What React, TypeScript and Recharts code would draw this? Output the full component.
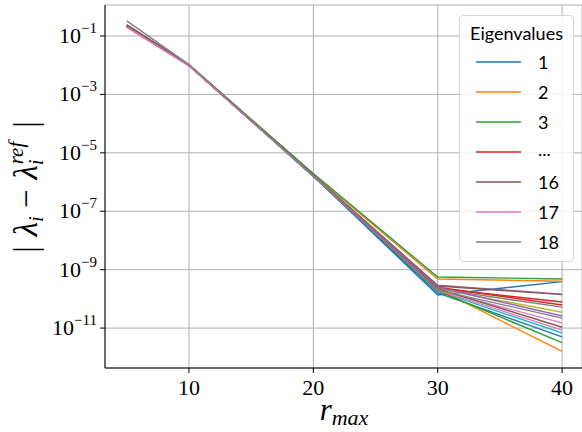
import { LineChart, Line, XAxis, YAxis, CartesianGrid } from "recharts";

// ── Data ──────────────────────────────────────────────────────────────────────

const rMax = [5, 10, 20, 30, 40];

const eig1 = [0.22, 1.0e-2, 1.6e-6, 1.35e-10, 3.9e-10];
const eig2 = [0.23, 1.02e-2, 1.8e-6, 4.8e-10, 4.0e-10];
const eig3 = [0.24, 1.05e-2, 1.95e-6, 5.6e-10, 4.8e-10];
const eig4 = [0.22, 1.0e-2, 1.7e-6, 2.3e-10, 7.8e-11];
const eig5 = [0.21, 9.8e-3, 1.7e-6, 2.95e-10, 1.45e-10];
const eig6 = [0.23, 1.0e-2, 1.7e-6, 2.75e-10, 1.4e-10];
const eig7 = [0.2, 9.6e-3, 1.6e-6, 2.0e-10, 1.5e-11];
const eig8 = [0.22, 1.0e-2, 1.65e-6, 2.2e-10, 5.2e-11];
const eig9 = [0.21, 9.8e-3, 1.65e-6, 2.2e-10, 3.5e-11];
const eig10 = [0.22, 9.9e-3, 1.6e-6, 1.86e-10, 6.8e-12];
const eig11 = [0.21, 9.7e-3, 1.55e-6, 1.6e-10, 5.0e-12];
const eig12 = [0.22, 9.9e-3, 1.65e-6, 2.2e-10, 1.6e-12];
const eig13 = [0.23, 1.0e-2, 1.6e-6, 1.86e-10, 3.2e-12];
const eig14 = [0.21, 9.8e-3, 1.7e-6, 2.5e-10, 6.2e-11];
const eig15 = [0.22, 9.9e-3, 1.7e-6, 2.5e-10, 2.6e-11];
const eig16 = [0.24, 1.02e-2, 1.65e-6, 2.2e-10, 1.07e-11];
const eig17 = [0.2, 9.6e-3, 1.6e-6, 2.0e-10, 8.5e-12];
const eig18 = [0.33, 1.05e-2, 1.65e-6, 2.0e-10, 2.2e-11];

const series = [
  eig1, eig2, eig3, eig4, eig5, eig6, eig7, eig8, eig9,
  eig10, eig11, eig12, eig13, eig14, eig15, eig16, eig17, eig18,
];

const xTicks = [10, 20, 30, 40];
const yTicks = [1e-11, 1e-9, 1e-7, 1e-5, 1e-3, 1e-1];
const yTickExp = ["−11", "−9", "−7", "−5", "−3", "−1"];

const legendTitle = "Eigenvalues";
const legendLabels = ["1", "2", "3", "...", "16", "17", "18"];
const legendSeries = [0, 1, 2, 3, 15, 16, 17];

// matplotlib tab10 cycle
const TAB10 = [
  "#1f77b4", "#ff7f0e", "#2ca02c", "#d62728", "#9467bd",
  "#8c564b", "#e377c2", "#7f7f7f", "#bcbd22", "#17becf",
];

const chartData = rMax.map((r, i) => {
  const row: Record<string, number> = { r };
  series.forEach((s, k) => {
    row[`e${k + 1}`] = s[i];
  });
  return row;
});

const SERIF = "Liberation Serif";
const SANS = "Lato";

// ── Ticks ────────────────────────────────────────────────────────────────────

function YTick({ x, y, payload }: any) {
  const idx = yTicks.findIndex((t) => Math.abs(Math.log10(t) - Math.log10(payload.value)) < 1e-6);
  return (
    <text x={x} y={y + 7} textAnchor="end" fontFamily={SERIF} fontSize={22} fill="#000">
      <tspan>10</tspan>
      <tspan fontSize={15} dy={-10}>{yTickExp[idx]}</tspan>
    </text>
  );
}

function XTick({ x, y, payload }: any) {
  return (
    <text x={x} y={y + 19} textAnchor="middle" fontFamily={SERIF} fontSize={22} fill="#000">
      {payload.value}
    </text>
  );
}

// ── Main ─────────────────────────────────────────────────────────────────────

export default function App() {
  return (
    <div style={{ position: "absolute", left: 0, top: 0, width: 582, height: 432, background: "#fff" }}>
      <LineChart width={582} height={432} data={chartData} margin={{ top: 5, right: 0, bottom: 0, left: 0 }}>
        <CartesianGrid stroke="#b0b0b0" strokeWidth={1} />
        <XAxis
          dataKey="r"
          type="number"
          domain={[3.25, 41.6]}
          ticks={xTicks}
          allowDataOverflow
          height={64}
          tickSize={5}
          tickMargin={3}
          stroke="#000"
          tick={<XTick />}
        />
        <XAxis
          xAxisId="top"
          orientation="top"
          dataKey="r"
          type="number"
          domain={[3.25, 41.6]}
          height={0}
          tick={false}
          tickLine={false}
          stroke="#000"
        />
        <YAxis
          scale="log"
          type="number"
          domain={[4.3e-13, 1.15]}
          ticks={yTicks}
          allowDataOverflow
          width={105}
          tickSize={5}
          tickMargin={3}
          stroke="#000"
          tick={<YTick />}
        />
        {series.map((_, k) => (
          <Line
            key={k}
            dataKey={`e${k + 1}`}
            stroke={TAB10[k % 10]}
            strokeWidth={1.4}
            dot={false}
            isAnimationActive={false}
          />
        ))}
      </LineChart>

      {/* axis titles */}
      <svg width={582} height={432} style={{ position: "absolute", left: 0, top: 0, pointerEvents: "none" }}>
        <text x={344} y={420} textAnchor="middle" fontFamily={SERIF} fontStyle="italic" fill="#000">
          <tspan fontSize={31}>r</tspan>
          <tspan fontSize={22} dy={5}>max</tspan>
        </text>
        <text
          transform="translate(37,187) rotate(-90)"
          textAnchor="middle"
          fontFamily={SERIF}
          fontSize={33}
          fill="#000"
        >
          <tspan>|</tspan>
          <tspan fontStyle="italic" dx={10}>λ</tspan>
          <tspan fontSize={21} fontStyle="italic" dy={6}>i</tspan>
          <tspan dx={8} dy={-6}>−</tspan>
          <tspan fontStyle="italic" dx={10}>λ</tspan>
          <tspan fontSize={21} fontStyle="italic" dy={6}>i</tspan>
          <tspan fontSize={21} fontStyle="italic" dx={-5} dy={-20}>ref</tspan>
          <tspan dx={14} dy={14}>|</tspan>
        </text>
      </svg>

      {/* legend */}
      <div
        style={{
          position: "absolute",
          left: 459,
          top: 15,
          width: 113,
          height: 245,
          border: "1px solid #d5d5d5",
          borderRadius: 4,
          background: "rgba(255,255,255,0.8)",
          fontFamily: SANS,
          fontSize: 18,
          color: "#000",
        }}
      >
        <div style={{ position: "absolute", left: 0, width: 113, top: 6, textAlign: "center" }}>{legendTitle}</div>
        {legendLabels.map((lab, j) => (
          <div key={lab} style={{ position: "absolute", left: 0, top: 46 + j * 30 - 12, height: 24, width: 113 }}>
            <svg width={50} height={24} style={{ position: "absolute", left: 14, top: 0 }}>
              <line x1={2} x2={47} y1={12} y2={12} stroke={TAB10[legendSeries[j] % 10]} strokeWidth={1.6} />
            </svg>
            <div
              style={{
                position: "absolute",
                left: 78,
                top: lab === "..." ? -3 : 0,
                lineHeight: "24px",
              }}
            >
              {lab}
            </div>
          </div>
        ))}
      </div>
    </div>
  );
}
